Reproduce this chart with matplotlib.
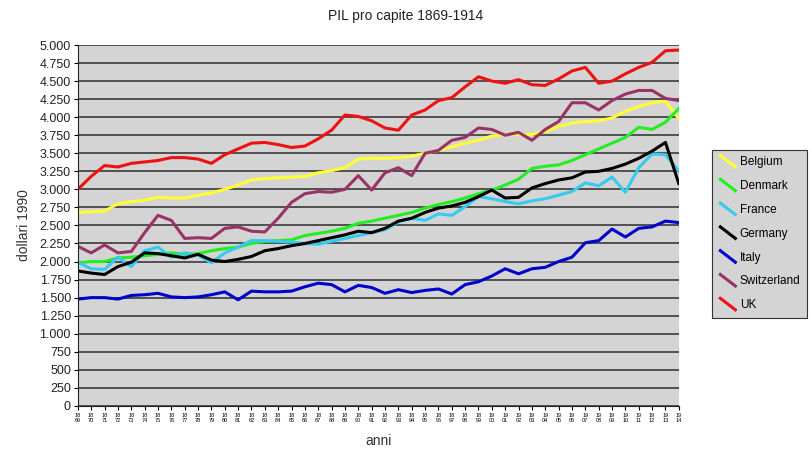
import matplotlib
matplotlib.use("Agg")
import matplotlib.pyplot as plt
from matplotlib.lines import Line2D
from matplotlib.legend_handler import HandlerBase
from matplotlib.ticker import FuncFormatter, MultipleLocator

plt.rcParams['font.family'] = ['Liberation Sans', 'DejaVu Sans']

years = list(range(1869, 1915))

# GDP per capita, 1990 dollars
belgium = [2680, 2690, 2700, 2800, 2830, 2850, 2890, 2880, 2880, 2920,
           2950, 3000, 3060, 3130, 3150, 3160, 3170, 3180, 3230, 3260,
           3300, 3420, 3430, 3430, 3440, 3460, 3500, 3540, 3590, 3640,
           3680, 3740, 3760, 3760, 3760, 3800, 3870, 3920, 3940, 3950,
           3990, 4080, 4150, 4200, 4220, 3980]
denmark = [1980, 2000, 2000, 2050, 2060, 2080, 2100, 2120, 2100, 2110,
           2150, 2180, 2200, 2250, 2280, 2290, 2300, 2360, 2390, 2420,
           2460, 2530, 2560, 2600, 2640, 2680, 2740, 2790, 2830, 2880,
           2940, 2990, 3060, 3140, 3290, 3320, 3340, 3400, 3480, 3560,
           3640, 3720, 3860, 3830, 3930, 4120]
france = [1990, 1900, 1890, 2060, 1930, 2150, 2200, 2060, 2120, 2090,
          1980, 2120, 2200, 2290, 2290, 2280, 2270, 2250, 2240, 2280,
          2320, 2360, 2400, 2440, 2550, 2600, 2570, 2660, 2640, 2760,
          2900, 2870, 2830, 2800, 2840, 2870, 2920, 2970, 3090, 3050,
          3170, 2960, 3300, 3490, 3480, 3250]
germany = [1870, 1840, 1820, 1930, 1990, 2120, 2110, 2080, 2050, 2100,
           2020, 2000, 2030, 2070, 2150, 2180, 2220, 2250, 2290, 2330,
           2370, 2420, 2400, 2460, 2560, 2600, 2680, 2740, 2770, 2820,
           2900, 2990, 2880, 2890, 3020, 3080, 3130, 3160, 3240, 3250,
           3290, 3350, 3430, 3530, 3650, 3080]
italy = [1480, 1500, 1500, 1480, 1530, 1540, 1560, 1510, 1500, 1510,
         1540, 1580, 1470, 1590, 1580, 1580, 1590, 1650, 1700, 1680,
         1580, 1670, 1640, 1560, 1610, 1570, 1600, 1620, 1550, 1680,
         1720, 1800, 1900, 1830, 1900, 1920, 2000, 2060, 2260, 2290,
         2450, 2340, 2460, 2480, 2560, 2540]
switzerland = [2210, 2120, 2230, 2120, 2140, 2400, 2640, 2570, 2320, 2330,
               2320, 2460, 2480, 2420, 2410, 2600, 2820, 2940, 2970, 2960,
               3000, 3190, 2990, 3230, 3300, 3190, 3500, 3540, 3680, 3720,
               3850, 3830, 3750, 3790, 3680, 3830, 3940, 4200, 4200, 4100,
               4230, 4320, 4370, 4370, 4260, 4230]
uk = [3000, 3180, 3330, 3310, 3360, 3380, 3400, 3440, 3440, 3420,
      3360, 3480, 3560, 3640, 3650, 3620, 3580, 3600, 3700, 3820,
      4030, 4010, 3950, 3850, 3820, 4030, 4100, 4230, 4270, 4420,
      4560, 4500, 4470, 4520, 4450, 4440, 4530, 4640, 4690, 4470,
      4500, 4600, 4690, 4760, 4920, 4930]

series = [
    ("Belgium", belgium, "#ffff33"),
    ("Denmark", denmark, "#22ee22"),
    ("France", france, "#33ccee"),
    ("Germany", germany, "#000000"),
    ("Italy", italy, "#0000cc"),
    ("Switzerland", switzerland, "#993366"),
    ("UK", uk, "#ee1111"),
]


class DiagHandler(HandlerBase):
    # legend key drawn as a short diagonal stroke
    def create_artists(self, legend, orig_handle, xdescent, ydescent,
                       width, height, fontsize, trans):
        x0 = -xdescent + width * 0.1
        x1 = -xdescent + width * 0.95
        y0 = -ydescent + height * 1.2
        y1 = -ydescent - height * 0.2
        ln = Line2D([x0, x1], [y0, y1], color=orig_handle.get_color(),
                    lw=orig_handle.get_linewidth(), transform=trans)
        return [ln]


fig = plt.figure(figsize=(8.11, 4.5), dpi=100)
ax = fig.add_axes([0.096, 0.098, 0.741, 0.802])
ax.set_facecolor('#d4d4d4')

handles = []
for name, vals, col in series:
    h, = ax.plot(years, vals, color=col, linewidth=2.2, label=name)
    handles.append(h)

ax.set_xlim(1869, 1914)
ax.set_ylim(0, 5000)
ax.yaxis.set_major_locator(MultipleLocator(250))
ax.yaxis.set_major_formatter(FuncFormatter(lambda v, p: f"{int(v):,}".replace(",", ".")))
ax.yaxis.grid(True, color='#3a3a3a', linewidth=1.2)
ax.set_axisbelow(True)

ax.set_xticks(years)
ax.set_xticklabels([f"{str(y)[:2]}\n{str(y)[2:]}" for y in years], fontsize=4, linespacing=1.1)
ax.tick_params(axis='x', length=3, width=0.8, pad=2)
ax.tick_params(axis='y', length=3, width=0.8, labelsize=9, labelcolor='#222222', pad=2)

for s in ['top', 'right']:
    ax.spines[s].set_visible(False)
ax.spines['left'].set_color('#222222')
ax.spines['bottom'].set_color('#222222')

ax.set_xlabel('anni', fontsize=10, color='#333333', labelpad=8)
ax.set_ylabel('dollari 1990', fontsize=10, color='#333333', labelpad=6)
fig.text(0.5, 0.965, 'PIL pro capite 1869-1914', ha='center', va='center',
         fontsize=10, color='#222222')

leg = fig.legend(handles=handles, handler_map={Line2D: DiagHandler()},
                 loc='upper left', bbox_to_anchor=(0.878, 0.667),
                 fontsize=8.5, handlelength=1.5, handletextpad=0.3,
                 labelspacing=1.0, borderpad=0.55, borderaxespad=0,
                 fancybox=False, framealpha=1)
leg.get_frame().set_facecolor('#d4d4d4')
leg.get_frame().set_edgecolor('#333333')
leg.get_frame().set_linewidth(0.8)

fig.savefig('out.png', dpi=100)
